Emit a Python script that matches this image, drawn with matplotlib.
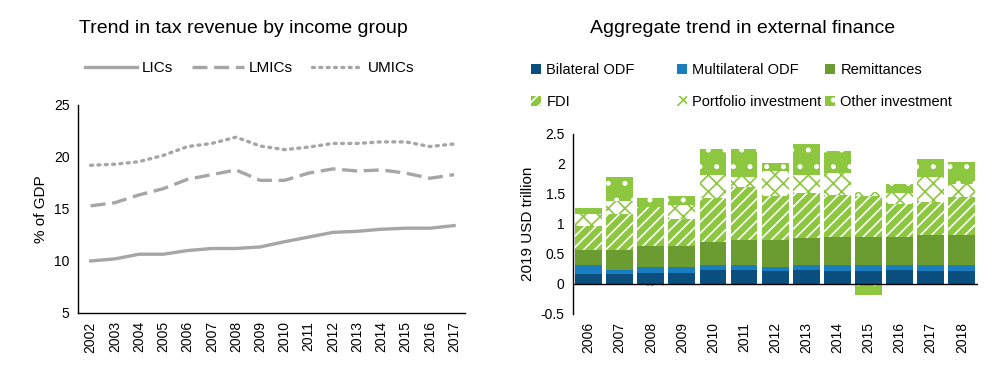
import matplotlib
matplotlib.use('Agg')
import matplotlib.pyplot as plt
import numpy as np
from matplotlib.patches import Patch

plt.rcParams['font.family'] = ['Liberation Sans', 'DejaVu Sans']
plt.rcParams['hatch.linewidth'] = 1.2

# ---------------- data: left panel ----------------
tax_years = [str(y) for y in range(2002, 2018)]
lics = [10.0, 10.2, 10.65, 10.65, 11.0, 11.2, 11.2, 11.35, 11.85, 12.3, 12.75, 12.85, 13.05, 13.15, 13.15, 13.4]
lmics = [15.3, 15.6, 16.35, 16.95, 17.85, 18.3, 18.75, 17.75, 17.75, 18.45, 18.85, 18.65, 18.75, 18.45, 17.95, 18.3]
umics = [19.2, 19.3, 19.55, 20.15, 21.0, 21.3, 21.9, 21.05, 20.7, 20.95, 21.3, 21.3, 21.45, 21.45, 21.0, 21.25]

# ---------------- data: right panel ----------------
fin_years = [str(y) for y in range(2006, 2019)]
bilateral = [0.17, 0.17, 0.19, 0.19, 0.23, 0.24, 0.21, 0.23, 0.21, 0.21, 0.23, 0.21, 0.21]
multilateral = [0.14, 0.07, 0.09, 0.10, 0.09, 0.08, 0.07, 0.08, 0.10, 0.10, 0.09, 0.10, 0.10]
remittances = [0.25, 0.32, 0.36, 0.35, 0.38, 0.42, 0.45, 0.46, 0.47, 0.47, 0.46, 0.50, 0.51]
fdi = [0.41, 0.60, 0.65, 0.45, 0.73, 0.87, 0.73, 0.74, 0.71, 0.68, 0.55, 0.56, 0.63]
portfolio = [0.19, 0.23, -0.03, 0.22, 0.39, 0.18, 0.42, 0.31, 0.36, 0.07, 0.18, 0.41, 0.21]
other_inv = [0.10, 0.39, 0.14, 0.16, 0.43, 0.46, 0.14, 0.52, 0.36, -0.19, 0.15, 0.31, 0.37]

fig = plt.figure(figsize=(10, 3.65), dpi=100)

# ---------------- left: tax revenue lines ----------------
ax1 = fig.add_axes([0.078, 0.1425, 0.387, 0.570])
gray = '#A6A6A6'
x1 = np.arange(len(tax_years))
ax1.plot(x1, lics, color=gray, lw=2.4, ls='-', label='LICs')
ax1.plot(x1, lmics, color=gray, lw=2.4, ls=(0, (4.5, 2)), label='LMICs')
ax1.plot(x1, umics, color=gray, lw=2.4, ls=(0, (0.6, 1.6)), dash_capstyle='round', label='UMICs')
ax1.set_xlim(-0.52, 15.45)
ax1.set_ylim(5, 25)
ax1.set_yticks([5, 10, 15, 20, 25])
ax1.set_xticks(x1)
ax1.set_xticklabels(tax_years, rotation=90)
ax1.tick_params(length=0, labelsize=10, pad=6)
ax1.set_ylabel('% of GDP', fontsize=11)
for s in ['top', 'right']:
    ax1.spines[s].set_visible(False)
for s in ['left', 'bottom']:
    ax1.spines[s].set_linewidth(1.0)
fig.text(0.243, 0.923, 'Trend in tax revenue by income group', ha='center', va='center', fontsize=14)
fig.legend(handles=ax1.get_lines(), loc='center left', bbox_to_anchor=(0.085, 0.814), ncol=3,
           frameon=False, fontsize=11, handlelength=3.4, handletextpad=0.3, columnspacing=1.25,
           borderaxespad=0, borderpad=0)

# ---------------- right: external finance stacked bars ----------------
ax2 = fig.add_axes([0.573, 0.140, 0.405, 0.493])
x2 = np.arange(len(fin_years))
c_bil = '#0B4F7F'
c_mul = '#1A7DC0'
c_rem = '#6A9C31'
c_light = '#8DC63F'
styles = [
    ('Bilateral ODF', bilateral, dict(color=c_bil, lw=0)),
    ('Multilateral ODF', multilateral, dict(color=c_mul, lw=0)),
    ('Remittances', remittances, dict(color=c_rem, lw=0)),
    ('FDI', fdi, dict(facecolor=c_light, edgecolor='white', hatch='///', lw=0)),
    ('Portfolio investment', portfolio, dict(facecolor='white', edgecolor=c_light, hatch='xx', lw=0)),
    ('Other investment', other_inv, dict(facecolor=c_light, edgecolor='white', hatch='.', lw=0)),
]
pos_base = np.zeros(len(fin_years))
neg_base = np.zeros(len(fin_years))
handles = []
for name, vals, kw in styles:
    v = np.array(vals)
    base = np.where(v >= 0, pos_base, neg_base)
    ax2.bar(x2, v, 0.86, bottom=base, **kw)
    pos_base += np.where(v >= 0, v, 0)
    neg_base += np.where(v < 0, v, 0)
    handles.append(Patch(label=name, **kw))
ax2.axhline(0, color='black', lw=1.0, zorder=3)
ax2.set_xlim(-0.5, 12.52)
ax2.set_ylim(-0.5, 2.5)
ax2.set_yticks([-0.5, 0, 0.5, 1, 1.5, 2, 2.5])
ax2.set_yticklabels(['-0.5', '0', '0.5', '1', '1.5', '2', '2.5'])
ax2.set_xticks(x2)
ax2.set_xticklabels(fin_years, rotation=90)
ax2.tick_params(length=0, labelsize=10, pad=6)
ax2.set_ylabel('2019 USD trillion', fontsize=11)
for s in ['top', 'right', 'bottom']:
    ax2.spines[s].set_visible(False)
ax2.spines['left'].set_linewidth(1.0)
fig.text(0.743, 0.923, 'Aggregate trend in external finance', ha='center', va='center', fontsize=14)

# legend: three columns placed by hand
col_x = [0.531, 0.677, 0.825]
for i, cx in enumerate(col_x):
    fig.legend(handles=[handles[i], handles[i + 3]], loc='upper left', bbox_to_anchor=(cx, 0.828),
               frameon=False, fontsize=10.5, handlelength=0.7, handleheight=0.7,
               handletextpad=0.35, labelspacing=1.25, borderaxespad=0, borderpad=0)

fig.savefig('out.png', dpi=100)
